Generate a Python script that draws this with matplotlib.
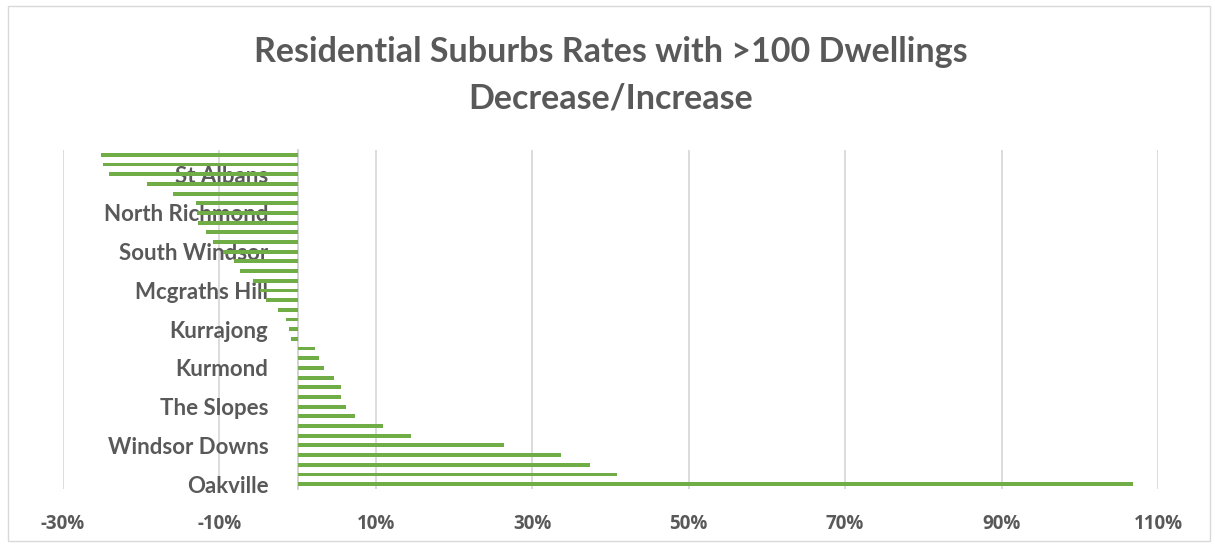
import matplotlib.pyplot as plt
from matplotlib.patches import Rectangle
import numpy as np

# change rate per suburb, bottom bar (index 0) first
rates = np.array([106.8, 40.8, 37.4, 33.7, 26.4, 14.5, 10.9, 7.3, 6.2, 5.5,
                  5.5, 4.6, 3.4, 2.7, 2.2, -0.9, -1.1, -1.5, -2.5, -4.0,
                  -4.8, -5.7, -7.4, -8.1, -9.5, -10.8, -11.7, -12.7, -12.9, -13.0,
                  -15.9, -19.3, -24.1, -24.9, -25.2])

# only every 4th category is labelled on the axis
label_pos = [0, 4, 8, 12, 16, 20, 24, 28, 32]
label_names = ["Oakville", "Windsor Downs", "The Slopes", "Kurmond", "Kurrajong",
               "Mcgraths Hill", "South Windsor", "North Richmond", "St Albans"]

x_ticks = [-30, -10, 10, 30, 50, 70, 90, 110]

grey = "#595959"
plt.rcParams['font.family'] = ['Lato', 'DejaVu Sans']
plt.rcParams['font.weight'] = 'bold'

W, H = 1215, 548
fig = plt.figure(figsize=(W / 100, H / 100), dpi=100)
ax = fig.add_axes([63 / W, 1 - 489 / H, (1158 - 63) / W, (489 - 150) / H])

# move the category axis to x = 0 first (this resets the tick labels)
for s in ['top', 'right', 'bottom']:
    ax.spines[s].set_visible(False)
ax.spines['left'].set_position(('data', 0))
ax.spines['left'].set_color("#d0d0d0")
ax.spines['left'].set_linewidth(1.3)

y = np.arange(len(rates))
ax.barh(y, rates, height=0.4, color="#70ad47", zorder=3)

ax.set_xlim(-30, 110)
ax.set_ylim(-0.5, len(rates) - 0.5)
ax.set_xticks(x_ticks)
ax.set_xticklabels([f"{v}%" for v in x_ticks], family=['Open Sans', 'DejaVu Sans'], fontweight='bold')
ax.set_yticks(label_pos)
ax.set_yticklabels(label_names)
ax.tick_params(axis='x', length=0, pad=18, labelsize=13.5, labelcolor=grey)
ax.tick_params(axis='y', length=0, pad=21, labelsize=16, labelcolor=grey)

ax.grid(axis='x', color="#d9d9d9", linewidth=1.3, zorder=0)

fig.text(611 / W, 1 - 75 / H, "Residential Suburbs Rates with >100 Dwellings\nDecrease/Increase",
         ha='center', va='center', fontsize=24.5, color=grey, linespacing=1.55)

fig.patches.append(Rectangle((8 / W, 1 - 541 / H), (1210 - 8) / W, (541 - 6) / H,
                             transform=fig.transFigure, fill=False, edgecolor="#d9d9d9", linewidth=1))

fig.savefig("out.png", dpi=100)
